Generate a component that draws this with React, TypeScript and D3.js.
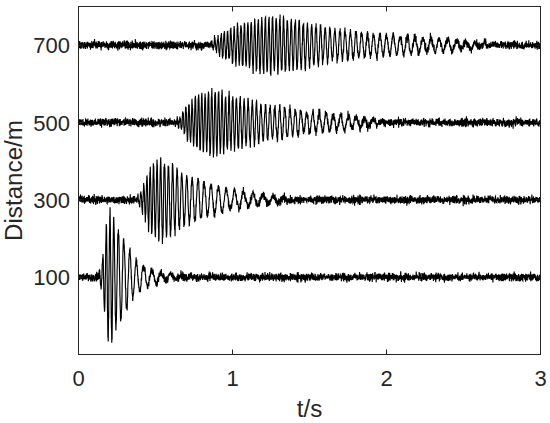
import React, { useMemo } from "react";
import * as d3 from "d3";

// ---- data ----
const X_TICKS = [0, 1, 2, 3];
const Y_TICKS = [100, 300, 500, 700];
const DISTANCES = [100, 300, 500, 700];

// envelope knots (time s, amplitude in m) per trace
const T100 = [0.13, 0.15, 0.17, 0.19, 0.205, 0.22, 0.25, 0.29, 0.33, 0.37, 0.42, 0.48, 0.56, 0.66, 0.8];
const A100 = [0, 35, 95, 150, 166, 158, 125, 100, 70, 45, 28, 18, 9, 4, 0];
const FT100 = [0.13, 0.22, 0.27, 0.33, 0.4, 0.48, 0.7];
const FV100 = [46, 40, 28, 25, 21, 17, 14];

const T300 = [0.37, 0.4, 0.43, 0.47, 0.5, 0.54, 0.6, 0.66, 0.77, 0.85, 0.98, 1.09, 1.24, 1.4];
const A300 = [0, 15, 45, 82, 95, 102, 88, 72, 52, 39, 26, 19, 11, 0];
const FT300 = [0.37, 0.45, 0.55, 0.7, 0.8, 0.95, 1.1, 1.4];
const FV300 = [55, 48, 40, 30, 24, 19, 16, 14];

const T500 = [0.62, 0.66, 0.71, 0.77, 0.85, 0.92, 0.99, 1.1, 1.2, 1.31, 1.42, 1.53, 1.64, 1.77, 1.9, 2.05];
const A500 = [0, 15, 43, 68, 82, 78, 68, 56, 46, 39, 32, 26, 22, 16, 8, 0];
const FT500 = [0.62, 0.75, 0.95, 1.2, 1.45, 1.6, 1.8, 2.0];
const FV500 = [55, 48, 44, 34, 27, 22, 19, 17];

const T700 = [0.85, 0.9, 1.0, 1.1, 1.18, 1.25, 1.32, 1.44, 1.55, 1.66, 1.77, 1.88, 1.98, 2.1, 2.2, 2.42, 2.6, 2.8];
const A700 = [0, 18, 45, 58, 68, 71, 68, 59, 48, 40, 34, 28, 26, 23, 20, 14, 7, 0];
const FT700 = [0.85, 1.0, 1.3, 1.5, 1.66, 1.95, 2.25, 2.6, 2.8];
const FV700 = [50, 46, 42, 36, 31, 24, 19, 16, 15];

const ENV_T = [T100, T300, T500, T700];
const ENV_A = [A100, A300, A500, A700];
const FRQ_T = [FT100, FT300, FT500, FT700];
const FRQ_V = [FV100, FV300, FV500, FV700];
const NOISE_LEVEL = 5.2;
const SIGNAL_JITTER = 0.05; // fraction of envelope, fuzz on the wave

const W = 550;
const H = 423;
const LEFT = 78.5;
const RIGHT = 540.5;
const TOP = 6.5;
const BOTTOM = 354.5;

function seeded(seed: number) {
  let a = seed >>> 0;
  return () => {
    a = (a + 0x6d2b79f5) >>> 0;
    let t = a;
    t = Math.imul(t ^ (t >>> 15), t | 1);
    t ^= t + Math.imul(t ^ (t >>> 7), t | 61);
    return ((t ^ (t >>> 14)) >>> 0) / 4294967296;
  };
}

function buildTrace(i: number) {
  const env = d3.scaleLinear().domain(ENV_T[i]).range(ENV_A[i]).clamp(true);
  const frq = d3.scaleLinear().domain(FRQ_T[i]).range(FRQ_V[i]).clamp(true);
  const rnd = seeded(1234 + i * 977);
  const dt = 0.001;
  const n = 3001;
  const pts: [number, number][] = [];
  let phase = 0;
  for (let k = 0; k < n; k++) {
    const t = k * dt;
    phase += 2 * Math.PI * frq(t) * dt;
    const g = (rnd() + rnd() + rnd() + rnd() - 2) * Math.sqrt(3);
    const g2 = (rnd() + rnd() + rnd() - 1.5) * 2;
    const e = env(t);
    const v = e * Math.sin(phase) + g * NOISE_LEVEL + g2 * e * SIGNAL_JITTER;
    pts.push([t, DISTANCES[i] + v]);
  }
  return pts;
}

export default function App() {
  const x = d3.scaleLinear().domain([0, 3]).range([LEFT, RIGHT]);
  const y = d3.scaleLinear().domain([-100, 800]).range([BOTTOM, TOP]);
  const traces = useMemo(() => DISTANCES.map((_, i) => buildTrace(i)), []);
  const line = d3
    .line<[number, number]>()
    .x((d) => x(d[0]))
    .y((d) => y(d[1]));
  const font = "'Liberation Sans', Arial, Helvetica, sans-serif";
  const axisColor = "#262626";
  const tl = 5;
  return (
    <svg
      width={W}
      height={H}
      style={{ position: "absolute", left: 0, top: 0, background: "#fff" }}
    >
      <rect x={0} y={0} width={W} height={H} fill="#fff" />
      {traces.map((p, i) => (
        <path key={i} d={line(p) || ""} fill="none" stroke="#000" strokeWidth={1.15} />
      ))}
      <rect
        x={LEFT}
        y={TOP}
        width={RIGHT - LEFT}
        height={BOTTOM - TOP}
        fill="none"
        stroke={axisColor}
        strokeWidth={1}
      />
      {X_TICKS.map((t) => (
        <g key={"x" + t}>
          <line x1={x(t)} x2={x(t)} y1={BOTTOM} y2={BOTTOM - tl} stroke={axisColor} />
          <line x1={x(t)} x2={x(t)} y1={TOP} y2={TOP + tl} stroke={axisColor} />
          <text
            x={x(t)}
            y={385.5}
            textAnchor="middle"
            fontFamily={font}
            fontSize={22}
            fill={axisColor}
          >
            {t}
          </text>
        </g>
      ))}
      {Y_TICKS.map((t) => (
        <g key={"y" + t}>
          <line x1={LEFT} x2={LEFT + tl} y1={y(t)} y2={y(t)} stroke={axisColor} />
          <line x1={RIGHT} x2={RIGHT - tl} y1={y(t)} y2={y(t)} stroke={axisColor} />
          <text
            x={70}
            y={y(t) + 8}
            textAnchor="end"
            fontFamily={font}
            fontSize={22}
            fill={axisColor}
          >
            {t}
          </text>
        </g>
      ))}
      <text
        x={(LEFT + RIGHT) / 2}
        y={417}
        textAnchor="middle"
        fontFamily={font}
        fontSize={24.2}
        fill={axisColor}
      >
        t/s
      </text>
      <text
        transform={`translate(21.5,${(TOP + BOTTOM) / 2}) rotate(-90)`}
        textAnchor="middle"
        fontFamily={font}
        fontSize={24.2}
        fill={axisColor}
      >
        Distance/m
      </text>
    </svg>
  );
}
